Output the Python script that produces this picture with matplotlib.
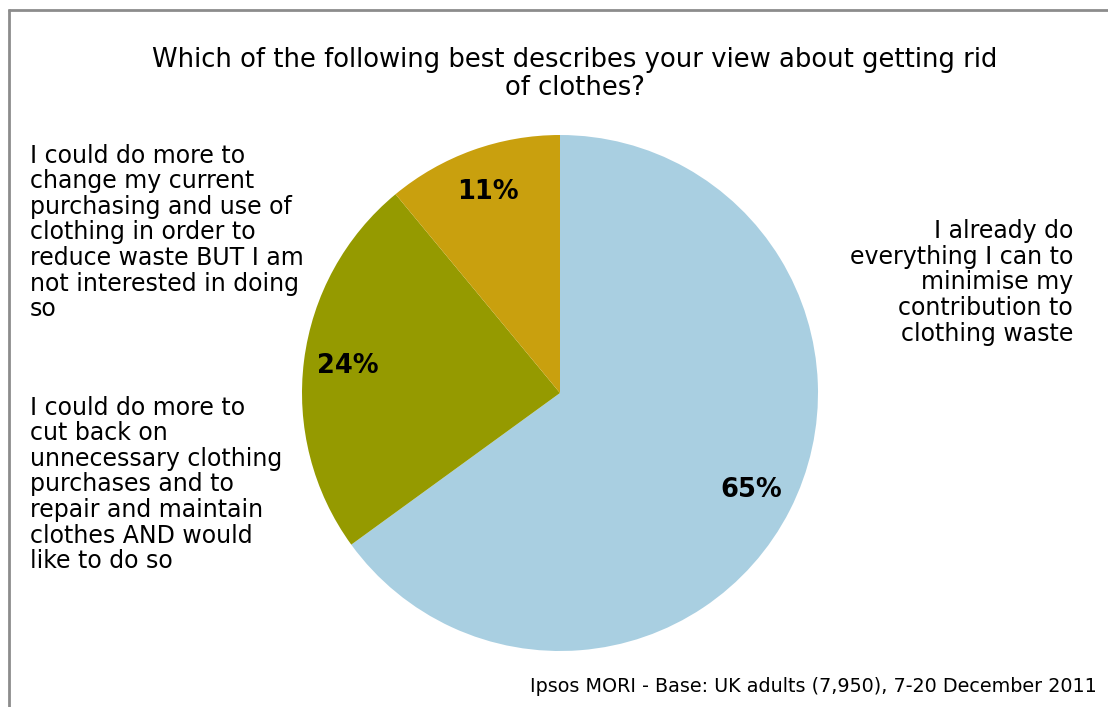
import matplotlib
matplotlib.use("Agg")
import matplotlib.pyplot as plt

# ---------------------------------------------------------------------------
# Dados
# ---------------------------------------------------------------------------
valores = [65, 24, 11]
cores = ["#a9cfe1", "#959a00", "#c9a00e"]
rotulos = [
    "I already do\neverything I can to\nminimise my\ncontribution to\nclothing waste",
    "I could do more to\ncut back on\nunnecessary clothing\npurchases and to\nrepair and maintain\nclothes AND would\nlike to do so",
    "I could do more to\nchange my current\npurchasing and use of\nclothing in order to\nreduce waste BUT I am\nnot interested in doing\nso",
]
titulo = "Which of the following best describes your view about getting rid\nof clothes?"
rodape = "Ipsos MORI - Base: UK adults (7,950), 7-20 December 2011"

W, H = 1108, 707
plt.rcParams["font.family"] = ["DejaVu Sans"]

fig = plt.figure(figsize=(W / 100, H / 100), dpi=100)
ax = fig.add_axes([0, 0, 1, 1])

# moldura cinza (só esquerda e topo visíveis)
ax.plot([8.5, 8.5], [0, H - 9], color="#8c8c8c", lw=2, solid_capstyle="butt")
ax.plot([8, W], [H - 9.5, H - 9.5], color="#8c8c8c", lw=2, solid_capstyle="butt")

wedges, _, autotexts = ax.pie(
    valores, colors=cores, startangle=90, counterclock=False,
    center=(560, H - 393), radius=258, frame=True,
    autopct=lambda p: f"{p:.0f}%", pctdistance=0.83,
    wedgeprops=dict(linewidth=0),
    textprops=dict(fontsize=18.5, fontweight="bold", color="black"),
)
ax.set_xlim(0, W)
ax.set_ylim(0, H)
ax.set_aspect("equal")
ax.axis("off")

ax.text(575, H - 74, titulo, ha="center", va="center", fontsize=18.6,
        linespacing=1.1)

fs = 17
ax.text(1073, H - 282.5, rotulos[0], ha="right", va="center", fontsize=fs,
        linespacing=1.08, multialignment="right")
ax.text(30, H - 484.5, rotulos[1], ha="left", va="center", fontsize=fs,
        linespacing=1.08)
ax.text(30, H - 232.5, rotulos[2], ha="left", va="center", fontsize=fs,
        linespacing=1.08)

ax.text(1097, H - 686, rodape, ha="right", va="center", fontsize=13.8)

fig.savefig("out.png", dpi=100)
